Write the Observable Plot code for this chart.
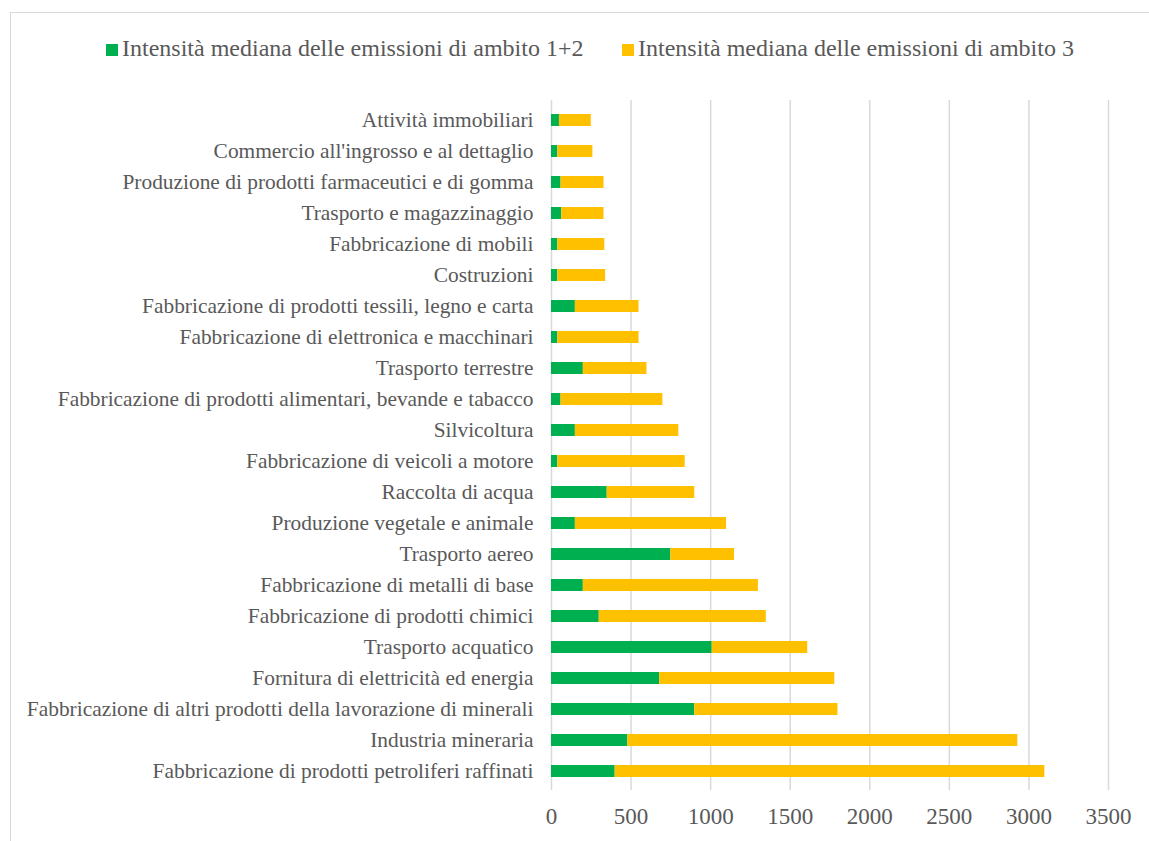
<!DOCTYPE html>
<html lang="it">
<head>
<meta charset="utf-8">
<script src="https://cdn.jsdelivr.net/npm/d3@7"></script>
<script src="https://cdn.jsdelivr.net/npm/@observablehq/plot@0.6"></script>
<style>
  html, body { margin: 0; padding: 0; background: #fff; }
  body { width: 1149px; height: 841px; position: relative; overflow: hidden;
         font-family: "Liberation Serif", "Times New Roman", serif; color: #595959; }
  #frame { position: absolute; left: 10px; top: 12px; width: 1200px; height: 900px;
           border: 1px solid #d9d9d9; box-sizing: border-box; }
  #legend { position: absolute; left: 0; top: 33px; width: 1149px; height: 30px; font-size: 24px; }
  .key { position: absolute; top: 0; white-space: nowrap; line-height: 30px; }
  .swatch { position: absolute; top: 11px; width: 12px; height: 12px; }
  #chart { position: absolute; left: 0; top: 0; }
</style>
</head>
<body>
<div id="frame"></div>
<div id="chart"></div>
<div id="legend"></div>
<script>
// Settori, dall'alto verso il basso
const sectors = [
  "Attività immobiliari",
  "Commercio all'ingrosso e al dettaglio",
  "Produzione di prodotti farmaceutici e di gomma",
  "Trasporto e magazzinaggio",
  "Fabbricazione di mobili",
  "Costruzioni",
  "Fabbricazione di prodotti tessili, legno e carta",
  "Fabbricazione di elettronica e macchinari",
  "Trasporto terrestre",
  "Fabbricazione di prodotti alimentari, bevande e tabacco",
  "Silvicoltura",
  "Fabbricazione di veicoli a motore",
  "Raccolta di acqua",
  "Produzione vegetale e animale",
  "Trasporto aereo",
  "Fabbricazione di metalli di base",
  "Fabbricazione di prodotti chimici",
  "Trasporto acquatico",
  "Fornitura di elettricità ed energia",
  "Fabbricazione di altri prodotti della lavorazione di minerali",
  "Industria mineraria",
  "Fabbricazione di prodotti petroliferi raffinati"
];

// Intensità mediana delle emissioni di ambito 1+2
const scope12 = [50, 40, 60, 65, 40, 40, 150, 40, 200, 60, 150, 40, 350, 150, 750, 200, 300, 1010, 680, 900, 480, 400];

// Intensità mediana delle emissioni di ambito 3
const scope3 = [200, 220, 270, 265, 295, 300, 400, 510, 400, 640, 650, 800, 550, 950, 400, 1100, 1050, 600, 1100, 900, 2450, 2700];

const seriesNames = [
  "Intensità mediana delle emissioni di ambito 1+2",
  "Intensità mediana delle emissioni di ambito 3"
];
const seriesColors = ["#00B050", "#FFC000"];
const xTicks = [0, 500, 1000, 1500, 2000, 2500, 3000, 3500];

const rows = sectors.flatMap((s, i) => [
  {sector: s, series: seriesNames[0], value: scope12[i]},
  {sector: s, series: seriesNames[1], value: scope3[i]}
]);

const chart = Plot.plot({
  width: 1149,
  height: 841,
  marginLeft: 551,
  marginRight: 41,
  marginTop: 100,
  marginBottom: 51,
  style: {fontFamily: '"Liberation Serif", "Times New Roman", serif', color: "#595959", background: "transparent"},
  x: {domain: [0, 3500], ticks: xTicks},
  y: {domain: sectors, paddingInner: 0.617, paddingOuter: 0.3085},
  color: {domain: seriesNames, range: seriesColors},
  marks: [
    Plot.gridX(xTicks, {stroke: "#d9d9d9", strokeOpacity: 1, strokeWidth: 1.5}),
    Plot.barX(rows, Plot.stackX({y: "sector", x: "value", fill: "series", order: seriesNames})),
    Plot.axisX(xTicks, {tickSize: 0, tickPadding: 17, fontSize: 23, fill: "#595959", label: null, tickFormat: d => String(d)}),
    Plot.axisY({tickSize: 0, tickPadding: 18, fontSize: 21.4, fill: "#595959", label: null})
  ]
});
document.getElementById("chart").appendChild(chart);

// Legenda in alto
const legend = document.getElementById("legend");
const keyLeft = [106, 622];
seriesNames.forEach((name, i) => {
  const sw = document.createElement("div");
  sw.className = "swatch";
  sw.style.left = keyLeft[i] + "px";
  sw.style.background = seriesColors[i];
  legend.appendChild(sw);
  const t = document.createElement("div");
  t.className = "key";
  t.style.left = (keyLeft[i] + 16) + "px";
  t.textContent = name;
  legend.appendChild(t);
});
</script>
</body>
</html>
